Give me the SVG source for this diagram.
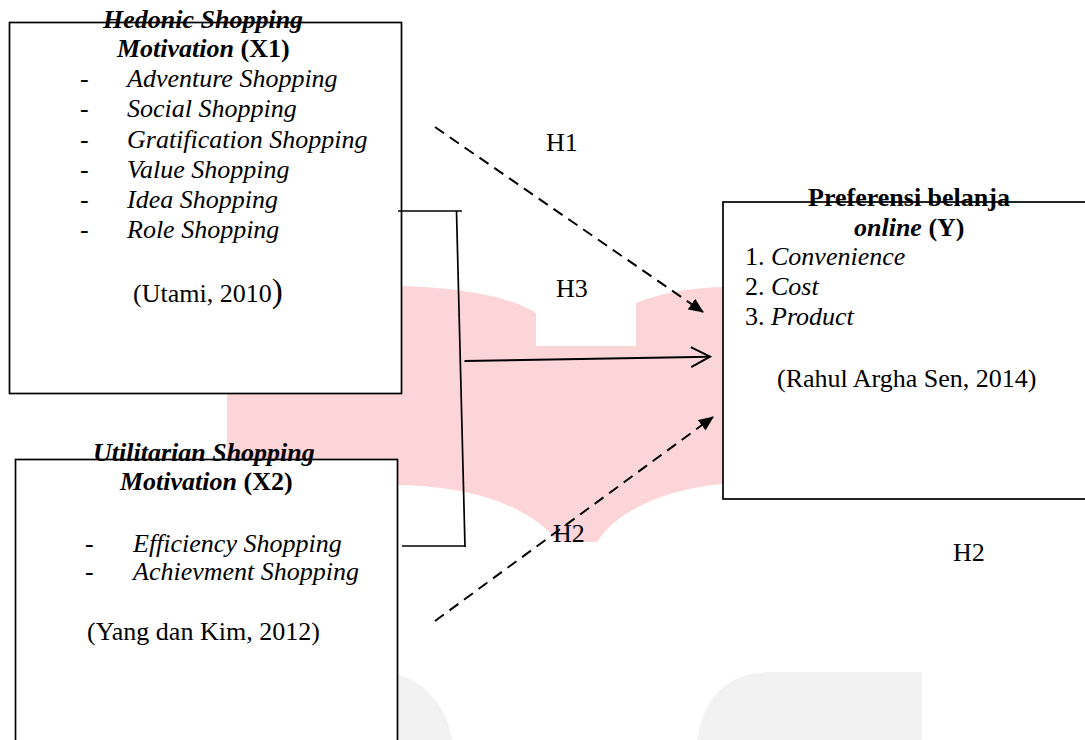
<svg xmlns="http://www.w3.org/2000/svg" width="1085" height="740" viewBox="0 0 1085 740">
  <style>
    text { font-family: "Liberation Serif", "Times New Roman", serif; font-size: 26px; fill: #000; }
    .bi { font-weight: bold; font-style: italic; }
    .b { font-weight: bold; }
    .i { font-style: italic; }
    .box { fill: #fff; stroke: #000; stroke-width: 1.7; }
    .conn { fill: none; stroke: #000; stroke-width: 1.7; }
    .dash { fill: none; stroke: #000; stroke-width: 2; stroke-dasharray: 11 7; }
    .solid { fill: none; stroke: #000; stroke-width: 2; }
  </style>
  <defs>
    <marker id="tri" markerUnits="userSpaceOnUse" viewBox="0 0 15 13" markerWidth="15" markerHeight="13" refX="14" refY="6.5" orient="auto">
      <path d="M0,0 L15,6.5 L0,13 Z" fill="#000"/>
    </marker>
    <marker id="open" markerUnits="userSpaceOnUse" viewBox="0 0 22 24" markerWidth="22" markerHeight="24" refX="20" refY="12" orient="auto">
      <path d="M1,2 L20,12 L1,22" fill="none" stroke="#000" stroke-width="2"/>
    </marker>
  </defs>
  <rect width="1085" height="740" fill="#fff"/>

  <g id="watermark">
    <path d="M227,286 L403,286 C460,288 510,296 536,313 L536,346 L636,346 L636,303 C660,293 690,288 723,287 L723,484 C680,487 620,505 597,542 L558,542 C530,505 470,487 403,485 L227,484 Z" fill="#fcd5d8"/>
    <path d="M300,674 L397,674 C430,684 448,712 452,740 L300,740 Z" fill="#f2f2f2"/>
    <path d="M697,740 C703,700 725,672 770,672 L922,672 L922,740 Z" fill="#f2f2f2"/>
  </g>

  <g id="node-x1">
    <rect class="box" x="9.5" y="22.5" width="392" height="371"/>
    <text x="103" y="28" class="bi">Hedonic Shopping</text>
    <text x="117" y="57"><tspan class="bi">Motivation</tspan><tspan class="b"> (X1)</tspan></text>
    <text x="80" y="87">-</text><text x="127" y="87" class="i">Adventure Shopping</text>
    <text x="80" y="117">-</text><text x="127" y="117" class="i">Social Shopping</text>
    <text x="80" y="148">-</text><text x="127" y="148" class="i">Gratification Shopping</text>
    <text x="80" y="178">-</text><text x="127" y="178" class="i">Value Shopping</text>
    <text x="80" y="208">-</text><text x="127" y="208" class="i">Idea Shopping</text>
    <text x="80" y="238">-</text><text x="127" y="238" class="i">Role Shopping</text>
    <text x="133" y="302">(Utami, 2010<tspan font-size="33">)</tspan></text>
  </g>

  <g id="node-x2">
    <rect class="box" x="15.5" y="459.5" width="382" height="340"/>
    <text x="93" y="461" class="bi">Utilitarian Shopping</text>
    <text x="120" y="490"><tspan class="bi">Motivation</tspan><tspan class="b"> (X2)</tspan></text>
    <text x="85" y="552">-</text><text x="133" y="552" class="i">Efficiency Shopping</text>
    <text x="85" y="580">-</text><text x="133" y="580" class="i">Achievment Shopping</text>
    <text x="87" y="640">(Yang dan Kim, 2012)</text>
  </g>

  <g id="node-y">
    <rect class="box" x="723" y="202" width="400" height="297"/>
    <text x="808" y="206" class="b">Preferensi belanja</text>
    <text x="854" y="236"><tspan class="bi">online</tspan><tspan class="b"> (Y)</tspan></text>
    <text x="745" y="265">1. <tspan class="i">Convenience</tspan></text>
    <text x="745" y="295">2. <tspan class="i">Cost</tspan></text>
    <text x="745" y="325">3. <tspan class="i">Product</tspan></text>
    <text x="777" y="387">(Rahul Argha Sen, 2014)</text>
  </g>

  <g id="connectors">
    <line class="conn" x1="398" y1="211" x2="462" y2="211"/>
    <line class="conn" x1="456.5" y1="211" x2="465" y2="547"/>
    <line class="conn" x1="402" y1="546" x2="466" y2="546"/>
    <line class="solid" x1="464.5" y1="361" x2="710" y2="356.7" marker-end="url(#open)"/>
    <line class="dash" x1="435" y1="127" x2="703" y2="312" marker-end="url(#tri)"/>
    <line class="dash" x1="435" y1="621" x2="713" y2="417" marker-end="url(#tri)"/>
  </g>

  <g id="labels">
    <text x="546" y="151" font-size="30">H1</text>
    <text x="556" y="297" font-size="25">H3</text>
    <text x="553" y="542" font-size="25">H2</text>
    <text x="953" y="561">H2</text>
  </g>
</svg>
